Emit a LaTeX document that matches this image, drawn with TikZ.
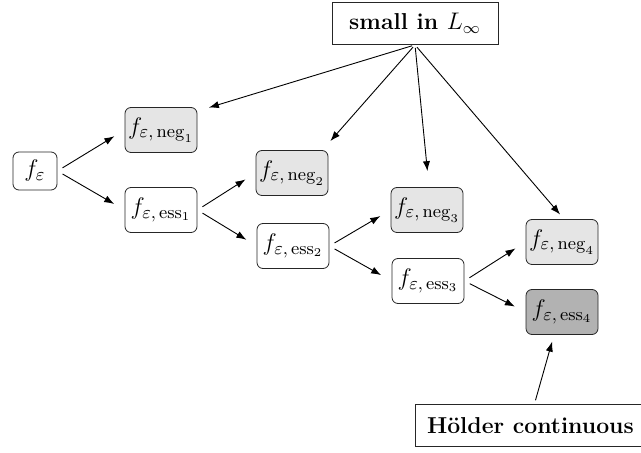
\documentclass[tikz,border=0pt]{standalone}
\usetikzlibrary{arrows.meta,calc}
\begin{document}
\begin{tikzpicture}[x=0.5pt,y=-0.5pt,
  fnode/.style={draw=black!85,rounded corners=3pt,inner sep=1pt,
    minimum width=36pt,minimum height=22.5pt,font=\fontsize{12.5}{15}\selectfont},
  negbox/.style={fnode,fill=gray!20},
  essbox/.style={fnode,fill=white},
  essdark/.style={fnode,fill=gray!60},
  labelbox/.style={draw=black!85,fill=white,inner sep=2pt,minimum height=21pt,
    font=\bfseries\fontsize{11.5}{14}\selectfont},
  arr/.style={-{Latex[length=5pt,width=3.6pt]},line width=0.45pt,
    shorten <=3pt,shorten >=6pt}]
\useasboundingbox (0,0) rectangle (641,453);

% function nodes
\node[fnode,minimum width=22pt,minimum height=19pt] (fe) at (35,171) {$f_\varepsilon$};
\node[negbox] (n1) at (161,130) {$f_{\varepsilon,\,\mathrm{neg}_1}$};
\node[essbox] (e1) at (161,210) {$f_{\varepsilon,\,\mathrm{ess}_1}$};
\node[negbox] (n2) at (292,173) {$f_{\varepsilon,\,\mathrm{neg}_2}$};
\node[essbox] (e2) at (293,246) {$f_{\varepsilon,\,\mathrm{ess}_2}$};
\node[negbox] (n3) at (427,210) {$f_{\varepsilon,\,\mathrm{neg}_3}$};
\node[essbox] (e3) at (428,281) {$f_{\varepsilon,\,\mathrm{ess}_3}$};
\node[negbox] (n4) at (562,242) {$f_{\varepsilon,\,\mathrm{neg}_4}$};
\node[essdark] (e4) at (562,312) {$f_{\varepsilon,\,\mathrm{ess}_4}$};

% property labels
\node[labelbox,minimum width=83pt] (small) at (415,23.5) {small in $L_\infty$};
\node[labelbox,anchor=west,minimum width=115pt] (hold) at (415,425.5) {H\"older continuous};

% splitting
\draw[arr] (fe.east) -- (n1.west);
\draw[arr] (fe.east) -- (e1.west);
\draw[arr] (e1.east) -- (n2.west);
\draw[arr] (e1.east) -- (e2.west);
\draw[arr] (e2.east) -- (n3.west);
\draw[arr] (e2.east) -- (e3.west);
\draw[arr] (e3.east) -- (n4.west);
\draw[arr] (e3.east) -- (e4.west);

% smallness of the negligible parts
\draw[arr,shorten <=1.5pt] (small.south) -- ($(n1.north east)+(0,4)$);
\draw[arr,shorten <=1.5pt] (small.south) -- ($(n2.north east)+(-6,0)$);
\draw[arr,shorten <=1.5pt,shorten >=8pt] (small.south) -- ($(n3.north)+(2,0)$);
\draw[arr,shorten <=1.5pt,shorten >=3pt] (small.south) -- ($(n4.north)+(2,0)$);

% regularity of the last essential part
\draw[arr,shorten <=2pt,shorten >=3.5pt] ($(hold.north)+(4,0)$) -- ($(e4.south)+(-8,0)$);
\end{tikzpicture}
\end{document}
